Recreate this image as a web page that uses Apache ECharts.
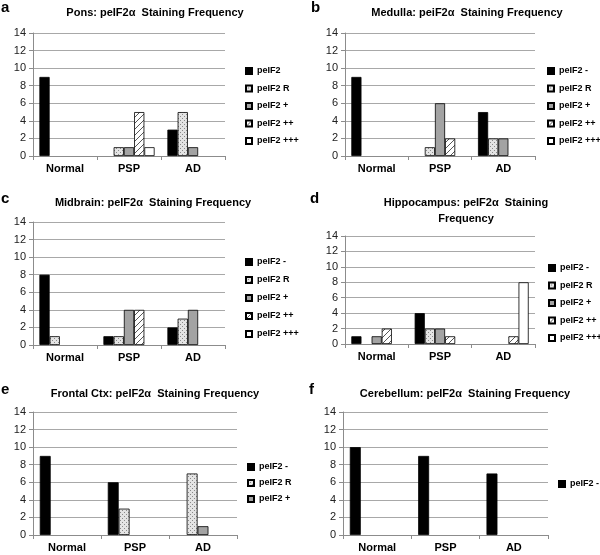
<!DOCTYPE html>
<html><head><meta charset="utf-8">
<script src="https://cdn.jsdelivr.net/npm/echarts@6/dist/echarts.min.js"></script>
<style>html,body{margin:0;padding:0;background:#fff}#c{width:600px;height:555px}</style>
</head><body><div id="c"></div>
<script>
// ---------- DATA ----------
const categories = ['Normal', 'PSP', 'AD'];
const levelNames = ['peIF2 -', 'peIF2 R', 'peIF2 +', 'peIF2 ++', 'peIF2 +++'];
const ponsNames = ['peIF2', 'peIF2 R', 'peIF2 +', 'peIF2 ++', 'peIF2 +++'];
const yMin = 0, yMax = 14, yStep = 2;

const ponsNeg = [9, 0, 3], ponsR = [0, 1, 5], ponsPlus = [0, 1, 1], ponsPlus2 = [0, 5, 0], ponsPlus3 = [0, 1, 0];
const medNeg = [9, 0, 5], medR = [0, 1, 2], medPlus = [0, 6, 2], medPlus2 = [0, 2, 0], medPlus3 = [0, 0, 0];
const midNeg = [8, 1, 2], midR = [1, 1, 3], midPlus = [0, 4, 4], midPlus2 = [0, 4, 0], midPlus3 = [0, 0, 0];
const hipNeg = [1, 4, 0], hipR = [0, 2, 0], hipPlus = [1, 2, 0], hipPlus2 = [2, 1, 1], hipPlus3 = [0, 0, 8];
const froNeg = [9, 6, 0], froR = [0, 3, 7], froPlus = [0, 0, 1], froPlus2 = [0, 0, 0], froPlus3 = [0, 0, 0];
const cerNeg = [10, 9, 7], cerR = [0, 0, 0], cerPlus = [0, 0, 0], cerPlus2 = [0, 0, 0], cerPlus3 = [0, 0, 0];

const titles = [
  'Pons: peIF2\u03b1  Staining Frequency',
  'Medulla: peiF2\u03b1  Staining Frequency',
  'Midbrain: peIF2\u03b1  Staining Frequency',
  'Hippocampus: peIF2\u03b1  Staining\nFrequency',
  'Frontal Ctx: peIF2\u03b1  Staining Frequency',
  'Cerebellum: peIF2\u03b1  Staining Frequency'
];
const letters = ['a', 'b', 'c', 'd', 'e', 'f'];

// ---------- STYLES ----------
function pattern(draw, w, h) {
  const cv = document.createElement('canvas');
  cv.width = w; cv.height = h;
  const ctx = cv.getContext('2d');
  draw(ctx);
  return { image: cv, repeat: 'repeat' };
}
const dotFill = pattern(ctx => {
  ctx.fillStyle = '#e4e4e4'; ctx.fillRect(0, 0, 4, 4);
  ctx.fillStyle = '#8a8a8a'; ctx.fillRect(0, 0, 1, 1); ctx.fillRect(2, 2, 1, 1);
}, 4, 4);
const hatchFill = pattern(ctx => {
  ctx.fillStyle = '#ffffff'; ctx.fillRect(0, 0, 6, 6);
  ctx.strokeStyle = '#444'; ctx.lineWidth = 0.9;
  ctx.beginPath();
  ctx.moveTo(0, 6); ctx.lineTo(6, 0);
  ctx.moveTo(-1, 1); ctx.lineTo(1, -1);
  ctx.moveTo(5, 7); ctx.lineTo(7, 5);
  ctx.stroke();
}, 6, 6);
const fills = ['#000000', dotFill, '#a3a3a3', hatchFill, '#ffffff'];

const FONT = '"Liberation Sans", Arial, sans-serif';

const panels = [
  { names: ponsNames, data: [ponsNeg, ponsR, ponsPlus, ponsPlus2, ponsPlus3], legendCount: 5,
    grid: { left: 33, top: 33, width: 192, height: 123 }, titleXY: [155, 13], letterXY: [1, 8],
    legend: { left: 245, top: 65.5, gap: 6.5 } },
  { names: levelNames, data: [medNeg, medR, medPlus, medPlus2, medPlus3], legendCount: 5,
    grid: { left: 345, top: 33, width: 190, height: 123 }, titleXY: [467, 13], letterXY: [311, 8],
    legend: { left: 547, top: 65.5, gap: 6.5 } },
  { names: levelNames, data: [midNeg, midR, midPlus, midPlus2, midPlus3], legendCount: 5,
    grid: { left: 33, top: 222, width: 192, height: 123 }, titleXY: [153, 203], letterXY: [1, 199],
    legend: { left: 245, top: 256.5, gap: 7 } },
  { names: levelNames, data: [hipNeg, hipR, hipPlus, hipPlus2, hipPlus3], legendCount: 5,
    grid: { left: 345, top: 236, width: 190, height: 108 }, titleXY: [466, 211], letterXY: [310, 199],
    legend: { left: 548, top: 262.5, gap: 6.5 } },
  { names: levelNames, data: [froNeg, froR, froPlus, froPlus2, froPlus3], legendCount: 3,
    grid: { left: 33, top: 412, width: 204, height: 123 }, titleXY: [155, 394], letterXY: [1, 390],
    legend: { left: 247, top: 461.5, gap: 5 } },
  { names: levelNames, data: [cerNeg, cerR, cerPlus, cerPlus2, cerPlus3], legendCount: 1,
    grid: { left: 343, top: 412, width: 205, height: 123 }, titleXY: [465, 394], letterXY: [309, 390],
    legend: { left: 558, top: 478.5, gap: 5 } }
];

const option = {
  animation: false,
  backgroundColor: '#ffffff',
  textStyle: { fontFamily: FONT },
  grid: [], xAxis: [], yAxis: [], series: [], legend: [], graphic: []
};

panels.forEach((p, i) => {
  option.grid.push(Object.assign({ containLabel: false }, p.grid));
  option.xAxis.push({
    type: 'category', gridIndex: i, data: categories,
    axisLine: { lineStyle: { color: '#8c8c8c', width: 1 } },
    axisTick: { show: true, length: 4, lineStyle: { color: '#8c8c8c' } },
    axisLabel: { color: '#000', fontWeight: 'bold', fontSize: 11, margin: 7, fontFamily: FONT },
    splitLine: { show: false }
  });
  option.yAxis.push({
    type: 'value', gridIndex: i, min: yMin, max: yMax, interval: yStep,
    axisLine: { show: true, lineStyle: { color: '#8c8c8c', width: 1 } },
    axisTick: { show: true, length: 4, lineStyle: { color: '#8c8c8c' } },
    axisLabel: { color: '#222', fontSize: 11, margin: 7, fontFamily: FONT },
    splitLine: { show: true, lineStyle: { color: '#a8a8a8', width: 1 } }
  });
  p.data.forEach((arr, k) => {
    option.series.push({
      type: 'bar', name: p.names[k], xAxisIndex: i, yAxisIndex: i,
      // zero counts are not drawn as bars
      data: arr.map(v => (v === 0 ? null : v)),
      barGap: '0%', barCategoryGap: '20%',
      itemStyle: { color: fills[k], borderColor: '#000', borderWidth: 0.8 },
      emphasis: { disabled: true }
    });
  });
  option.legend.push({
    orient: 'vertical', left: p.legend.left, top: p.legend.top, padding: 0,
    data: p.names.slice(0, p.legendCount),
    icon: 'rect', itemWidth: 6, itemHeight: 6, itemGap: p.legend.gap,
    selectedMode: false,
    textStyle: { fontSize: 9, fontWeight: 'bold', color: '#000', fontFamily: FONT, lineHeight: 11 }
  });
  option.graphic.push({
    type: 'text', x: p.titleXY[0], y: p.titleXY[1],
    style: { text: titles[i], textAlign: 'center', textVerticalAlign: 'middle',
      font: 'bold 11px ' + FONT, fill: '#000', lineHeight: 16 }
  });
  option.graphic.push({
    type: 'text', x: p.letterXY[0], y: p.letterXY[1],
    style: { text: letters[i], textAlign: 'left', textVerticalAlign: 'middle',
      font: 'bold 15px ' + FONT, fill: '#000' }
  });
});

const chart = echarts.init(document.getElementById('c'), null, { renderer: 'canvas' });
chart.setOption(option);
</script>
</body></html>
